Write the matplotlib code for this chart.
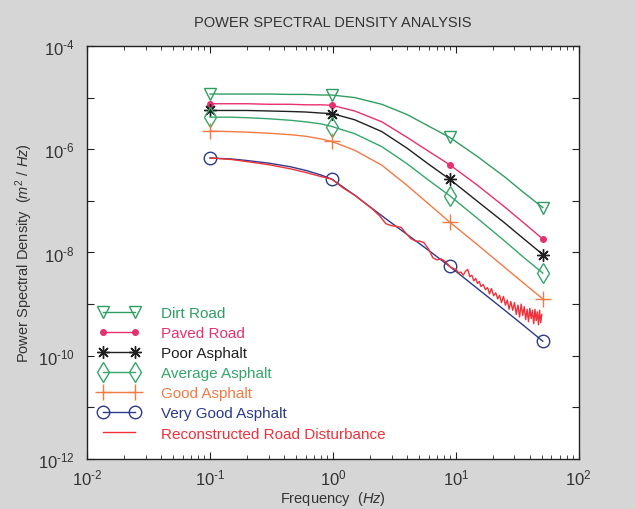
import matplotlib
matplotlib.use("Agg")
import matplotlib.pyplot as plt
import numpy as np

plt.rcParams['font.family'] = ['Liberation Sans', 'DejaVu Sans']
plt.rcParams['mathtext.fontset'] = 'custom'
plt.rcParams['mathtext.rm'] = 'Liberation Sans'
plt.rcParams['mathtext.it'] = 'Liberation Sans:italic'

# road model curves (frequency in Hz, PSD in m^2/Hz)
freq = [0.1, 0.15, 0.2, 0.3, 0.45, 0.6, 0.8, 0.98, 1.5, 2.5, 4, 6, 8.9, 15, 25, 35, 51]
marker_idx = [0, 7, 12, 16]

dirt_road = [1.17e-5, 1.17e-5, 1.17e-5, 1.17e-5, 1.15e-5, 1.15e-5, 1.12e-5, 1.12e-5,
             1.0e-5, 7.4e-6, 4.7e-6, 2.8e-6, 1.7e-6, 7.2e-7, 2.9e-7, 1.5e-7, 7.4e-8]
paved_road = [7.59e-6, 7.59e-6, 7.59e-6, 7.41e-6, 7.41e-6, 7.24e-6, 7.24e-6, 7.08e-6,
              5.50e-6, 3.39e-6, 1.70e-6, 9.12e-7, 5.01e-7, 2.00e-7, 7.59e-8, 3.89e-8, 1.82e-8]
poor_asphalt = [5.62e-6, 5.62e-6, 5.62e-6, 5.50e-6, 5.37e-6, 5.25e-6, 5.01e-6, 4.90e-6,
                3.72e-6, 2.19e-6, 1.05e-6, 5.13e-7, 2.63e-7, 9.77e-8, 3.72e-8, 1.91e-8, 9.12e-9]
average_asphalt = [4.17e-6, 4.17e-6, 4.07e-6, 3.89e-6, 3.63e-6, 3.39e-6, 3.09e-6, 2.75e-6,
                   2.00e-6, 1.12e-6, 5.25e-7, 2.51e-7, 1.26e-7, 4.57e-8, 1.66e-8, 8.32e-9, 3.98e-9]
good_asphalt = [2.24e-6, 2.19e-6, 2.14e-6, 2.04e-6, 1.91e-6, 1.78e-6, 1.58e-6, 1.41e-6,
                9.55e-7, 4.90e-7, 2.00e-7, 8.71e-8, 3.89e-8, 1.41e-8, 5.13e-9, 2.63e-9, 1.26e-9]
very_good_asphalt = [6.76e-7, 6.46e-7, 6.03e-7, 5.37e-7, 4.57e-7, 3.89e-7, 3.16e-7, 2.63e-7,
                     1.29e-7, 5.13e-8, 2.24e-8, 1.10e-8, 5.37e-9, 2.00e-9, 7.59e-10, 3.98e-10, 1.91e-10]

# reconstructed road disturbance
recon_freq = [0.1, 0.15, 0.2, 0.3, 0.45, 0.6, 0.8, 0.98,
              1.2, 1.5, 1.8, 2.1, 2.4, 2.7, 3.0, 3.3, 3.6, 3.9, 4.3, 4.7, 5.1, 5.5,
              6.0, 6.5, 7.0, 7.6, 8.2, 8.9,
              9.5, 10, 10.5, 11, 11.5, 12, 12.5, 13, 13.5, 14, 14.5, 15, 15.5, 16,
              16.7, 17.4, 18.1, 18.8, 19.5, 20.3, 21.1, 21.9, 22.7, 23.5, 24.4, 25.3,
              26.2, 27.1, 28, 29, 30, 31, 32, 33, 34, 35, 36, 37, 38, 39, 40, 41, 42,
              43, 44, 45, 46, 47, 48, 49, 50]
recon_psd = [6.76e-7, 6.31e-7, 5.75e-7, 5.01e-7, 4.17e-7, 3.55e-7, 2.95e-7, 2.63e-7,
             1.80e-7, 1.29e-7, 9.2e-8, 6.9e-8, 5.1e-8, 3.6e-8, 3.3e-8, 3.2e-8, 3.05e-8,
             2.4e-8, 1.86e-8, 1.66e-8, 1.66e-8, 1.55e-8, 1.16e-8, 7.9e-9, 7.2e-9, 7.5e-9,
             6.7e-9, 5.4e-9,
             4.90e-9, 4.68e-9, 4.07e-9, 4.17e-9, 3.63e-9, 4.37e-9, 4.68e-9, 3.39e-9,
             3.63e-9, 2.82e-9, 3.16e-9, 2.51e-9, 2.75e-9, 2.19e-9, 2.40e-9, 1.91e-9,
             2.09e-9, 1.58e-9, 2.00e-9, 1.45e-9, 1.66e-9, 1.26e-9, 1.48e-9, 1.07e-9,
             1.41e-9, 9.55e-10, 1.20e-9, 7.94e-10, 1.12e-9, 7.59e-10, 1.07e-9, 6.31e-10,
             9.55e-10, 5.62e-10, 1.00e-9, 6.03e-10, 8.91e-10, 5.01e-10, 7.94e-10, 4.57e-10,
             8.32e-10, 5.25e-10, 7.59e-10, 4.17e-10, 7.94e-10, 4.79e-10, 7.08e-10,
             3.98e-10, 7.59e-10, 4.37e-10, 6.31e-10]

fig = plt.figure(figsize=(6.36, 5.10), dpi=100, facecolor='#d6d6d6')
ax = fig.add_axes([0.137, 0.098, 0.773, 0.81])

ax.loglog(freq, dirt_road, color='#2f9d62', lw=1, marker='v', ms=9, mfc='none',
          markevery=marker_idx, label='Dirt Road')
ax.loglog(freq, paved_road, color='#e8306f', lw=1, marker='o', ms=4,
          markevery=marker_idx, label='Paved Road')
ax.loglog(freq, poor_asphalt, color='#202020', lw=1, marker=(8, 2, 0), ms=9,
          markevery=marker_idx, label='Poor Asphalt')
ax.loglog(freq, average_asphalt, color='#35a66a', lw=1, marker='d', ms=10, mfc='none',
          markevery=marker_idx, label='Average Asphalt')
ax.loglog(freq, good_asphalt, color='#f27a45', lw=1, marker='+', ms=12,
          markevery=marker_idx, label='Good Asphalt')
ax.loglog(freq, very_good_asphalt, color='#2c3a8a', lw=1, marker='o', ms=9, mfc='none',
          markevery=marker_idx, label='Very Good Asphalt')
ax.loglog(recon_freq, recon_psd, color='#f2303a', lw=1, label='Reconstructed Road Disturbance')

ax.set_xlim(1e-2, 1e2)
ax.set_ylim(1e-12, 1e-4)

hy = '\u2010'
yt = [10.0 ** e for e in range(-12, -3)]
ax.set_yticks(yt)
ax.set_yticklabels([r'$10^{%s%d}$' % (hy, -e) if e % 2 == 0 else '' for e in range(-12, -3)])
ax.yaxis.set_minor_locator(matplotlib.ticker.NullLocator())
ax.set_xticks([1e-2, 1e-1, 1e0, 1e1, 1e2])
ax.set_xticklabels([r'$10^{%s%d}$' % (hy, -e) if e < 0 else r'$10^{%d}$' % e for e in range(-2, 3)])
ax.tick_params(which='both', direction='in', top=True, right=True, labelsize=12,
               colors='#222222', labelcolor='#333333')
ax.tick_params(which='major', length=5)
ax.tick_params(axis='y', which='major', pad=9)
ax.tick_params(axis='x', which='major', pad=6)
ax.tick_params(which='minor', length=3)
for s in ax.spines.values():
    s.set_color('#222222')
    s.set_linewidth(1)

ax.set_title('POWER SPECTRAL DENSITY ANALYSIS', fontsize=10.5, color='#333333', pad=14)
ax.set_xlabel(r'Frequency  ($Hz$)', fontsize=10.5, color='#333333', labelpad=1)
ax.set_ylabel(r'Power Spectral Density  ($m^2$ / $Hz$)', fontsize=10.5, color='#333333', labelpad=2)

leg = ax.legend(loc='lower left', bbox_to_anchor=(0.01, 0.03), frameon=False, fontsize=11,
                numpoints=2, handlelength=2.7, handletextpad=1.4, labelspacing=0.4,
                labelcolor='linecolor', borderaxespad=0)

fig.savefig('out.png', dpi=100, facecolor=fig.get_facecolor())
